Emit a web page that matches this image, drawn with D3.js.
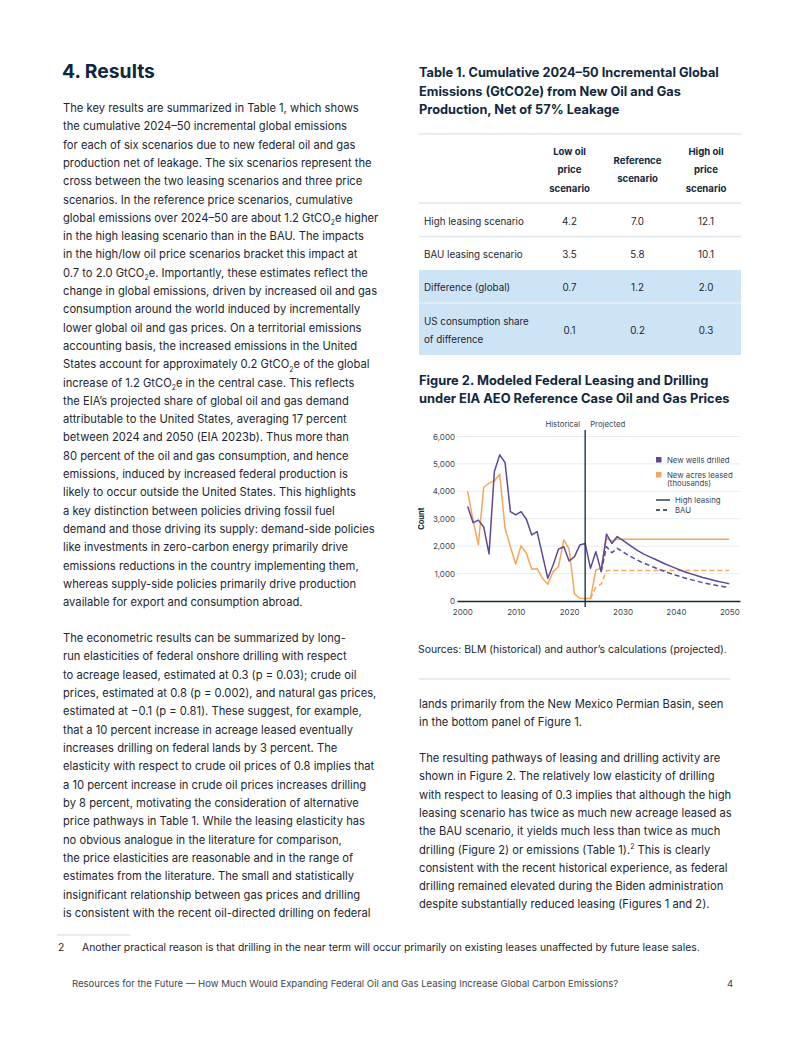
<!DOCTYPE html>
<html><head><meta charset="utf-8">
<script src="https://cdn.jsdelivr.net/npm/d3@7"></script>
<style>body{margin:0;background:#fff}svg{display:block}</style>
</head><body><svg id="page" width="802" height="1037"></svg>
<script>
// ---------------- DATA ----------------
const histYears = d3.range(2001, 2024);
const wellsHist = [3450,2860,2950,2700,1720,4720,5330,5050,3260,3140,3260,2980,2410,2530,1680,830,1310,1890,1980,1460,1620,2040,2100];
const acresHist = [4000,2950,2050,4150,4300,4380,4620,2650,1980,1350,2020,1740,1160,1180,830,610,1070,1250,2230,1890,260,100,90];

const projYears = d3.range(2023, 2051);
const wellsHigh = [2100,1190,1800,1070,2440,2100,2350,2220,2080,1950,1820,1710,1620,1530,1440,1350,1270,1190,1110,1040,980,920,860,810,760,710,670,630];
const acresHigh = [90,90,1130,1200,2290,2180,2250,2250,2250,2250,2250,2250,2250,2250,2250,2250,2250,2250,2250,2250,2250,2250,2250,2250,2250,2250,2250,2250];

const wellsBAUYears = d3.range(2026, 2051);
const wellsBAU = [1070,1980,1760,1920,1800,1680,1570,1470,1380,1300,1220,1140,1070,1000,940,880,820,770,720,670,630,590,550,520,490];
const acresBAUYears = d3.range(2024, 2051);
const acresBAU = [90,500,620,1110,1110,1110,1110,1110,1110,1110,1110,1110,1110,1110,1110,1110,1110,1110,1110,1110,1110,1110,1110,1110,1110,1110,1110];

const yTicks = [0,1000,2000,3000,4000,5000,6000];
const xTicks = [2000,2010,2020,2030,2040,2050];
const splitYear = 2023;
const legendItems = ["New wells drilled", "New acres leased", "(thousands)"];

const tableCols = [["Low oil","price","scenario"],["Reference","scenario"],["High oil","price","scenario"]];
const tableRows = [["High leasing scenario"],["BAU leasing scenario"],["Difference (global)"],["US consumption share","of difference"]];
const tableVals = [["4.2","7.0","12.1"],["3.5","5.8","10.1"],["0.7","1.2","2.0"],["0.1","0.2","0.3"]];

const leftP1 = [
"The key results are summarized in Table 1, which shows",
"the cumulative 2024–50 incremental global emissions",
"for each of six scenarios due to new federal oil and gas",
"production net of leakage. The six scenarios represent the",
"cross between the two leasing scenarios and three price",
"scenarios. In the reference price scenarios, cumulative",
"global emissions over 2024–50 are about 1.2 GtCO{2}e higher",
"in the high leasing scenario than in the BAU. The impacts",
"in the high/low oil price scenarios bracket this impact at",
"0.7 to 2.0 GtCO{2}e. Importantly, these estimates reflect the",
"change in global emissions, driven by increased oil and gas",
"consumption around the world induced by incrementally",
"lower global oil and gas prices. On a territorial emissions",
"accounting basis, the increased emissions in the United",
"States account for approximately 0.2 GtCO{2}e of the global",
"increase of 1.2 GtCO{2}e in the central case. This reflects",
"the EIA’s projected share of global oil and gas demand",
"attributable to the United States, averaging 17 percent",
"between 2024 and 2050 (EIA 2023b). Thus more than",
"80 percent of the oil and gas consumption, and hence",
"emissions, induced by increased federal production is",
"likely to occur outside the United States. This highlights",
"a key distinction between policies driving fossil fuel",
"demand and those driving its supply: demand-side policies",
"like investments in zero-carbon energy primarily drive",
"emissions reductions in the country implementing them,",
"whereas supply-side policies primarily drive production",
"available for export and consumption abroad."];
const leftP2 = [
"The econometric results can be summarized by long-",
"run elasticities of federal onshore drilling with respect",
"to acreage leased, estimated at 0.3 (p = 0.03); crude oil",
"prices, estimated at 0.8 (p = 0.002), and natural gas prices,",
"estimated at −0.1 (p = 0.81). These suggest, for example,",
"that a 10 percent increase in acreage leased eventually",
"increases drilling on federal lands by 3 percent. The",
"elasticity with respect to crude oil prices of 0.8 implies that",
"a 10 percent increase in crude oil prices increases drilling",
"by 8 percent, motivating the consideration of alternative",
"price pathways in Table 1. While the leasing elasticity has",
"no obvious analogue in the literature for comparison,",
"the price elasticities are reasonable and in the range of",
"estimates from the literature. The small and statistically",
"insignificant relationship between gas prices and drilling",
"is consistent with the recent oil-directed drilling on federal"];
const rightP0 = [
"lands primarily from the New Mexico Permian Basin, seen",
"in the bottom panel of Figure 1."];
const rightP1 = [
"The resulting pathways of leasing and drilling activity are",
"shown in Figure 2. The relatively low elasticity of drilling",
"with respect to leasing of 0.3 implies that although the high",
"leasing scenario has twice as much new acreage leased as",
"the BAU scenario, it yields much less than twice as much",
"drilling (Figure 2) or emissions (Table 1).[2] This is clearly",
"consistent with the recent historical experience, as federal",
"drilling remained elevated during the Biden administration",
"despite substantially reduced leasing (Figures 1 and 2)."];
const tableTitle = ["Table 1. Cumulative 2024–50 Incremental Global","Emissions (GtCO2e) from New Oil and Gas","Production, Net of 57% Leakage"];
const figTitle = ["Figure 2. Modeled Federal Leasing and Drilling","under EIA AEO Reference Case Oil and Gas Prices"];

// ---------------- STYLE ----------------
const FONT = "Inter, 'Noto Sans', sans-serif";
const TEXT = "#1c2732", NAVY = "#10283d", PURPLE = "#5c4a98", ORANGE = "#f4a65b", GRID = "#e4edf6", RULE = "#dde6ef", SHADE = "#cde3f6";

const svg = d3.select("#page").style("font-family", FONT);
svg.append("rect").attr("width",802).attr("height",1037).attr("fill","#fff");

function measure(str, size, weight) {
  const t = svg.append("text").attr("font-size", size).attr("font-weight", weight||400).text(str);
  const w = t.node().getComputedTextLength(); t.remove(); return w;
}
function fitSize(str, target, weight) { return 12 * target / measure(str, 12, weight); }

function addLine(g, x, y, str, size, opts) {
  opts = opts || {};
  const t = g.append("text").attr("x", x).attr("y", y).attr("font-size", size)
    .attr("fill", opts.fill || TEXT).attr("font-weight", opts.weight || 400)
    .attr("text-anchor", opts.anchor || "start");
  const parts = str.split(/(\{\d\}|\[\d\])/);
  let shift = 0;
  parts.forEach(p => {
    if (!p) return;
    if (p[0] === "{") {
      t.append("tspan").attr("font-size", size*0.62).attr("dy", size*0.3).text(p.slice(1,-1));
      shift = -size*0.3;
    } else if (p[0] === "[") {
      t.append("tspan").attr("font-size", size*0.62).attr("dy", -size*0.4).text(p.slice(1,-1));
      shift = size*0.4;
    } else {
      const ts = t.append("tspan").text(p);
      if (shift) { ts.attr("dy", shift); shift = 0; }
    }
  });
  return t;
}
function addPara(lines, x, y0, step, size) {
  const g = svg.append("g");
  lines.forEach((l, i) => addLine(g, x, y0 + i*step, l, size));
}

const bodySize = fitSize("global emissions over 2024–50 are about 1.2 GtCO2e higher", 318);

// ---------------- LEFT COLUMN ----------------
const h1 = fitSize("4. Results", 93, 700);
addLine(svg, 62, 78, "4. Results", h1, {weight:700, fill:NAVY});
addPara(leftP1, 63, 112, 18.3, bodySize);
addPara(leftP2, 63, 642, 18.33, bodySize);

// ---------------- RIGHT COLUMN: TABLE ----------------
const ttSize = fitSize(tableTitle[0], 300, 700);
tableTitle.forEach((l,i) => addLine(svg, 419, 77 + i*18.5, l, ttSize, {weight:700, fill:NAVY}));

const tg = svg.append("g");
const colX = [569.5, 637.5, 706];
const tSize = fitSize("High leasing scenario", 100);
const thSize = fitSize("Reference", 48, 700);
tg.append("rect").attr("x",419).attr("y",270).attr("width",322).attr("height",85).attr("fill",SHADE);
[134, 203, 236.5].forEach(y => tg.append("line").attr("x1",419).attr("x2",741).attr("y1",y).attr("y2",y).attr("stroke",RULE).attr("stroke-width",1.5));
tg.append("line").attr("x1",419).attr("x2",741).attr("y1",303).attr("y2",303).attr("stroke","#e6f0fa").attr("stroke-width",1.5);
tableCols.forEach((c, ci) => {
  const y0 = c.length === 3 ? 155 : 164;
  c.forEach((l, li) => addLine(tg, colX[ci], y0 + li*18.4, l, thSize, {weight:700, anchor:"middle", fill:NAVY}));
});
const rowY = [224.5, 257.5, 291, 334];
tableRows.forEach((r, ri) => {
  const y0 = r.length === 2 ? rowY[ri] - 8.7 : rowY[ri];
  r.forEach((l, li) => addLine(tg, 424, y0 + li*17.4, l, tSize));
  tableVals[ri].forEach((v, ci) => addLine(tg, colX[ci], rowY[ri], v, tSize, {anchor:"middle"}));
});

// ---------------- FIGURE ----------------
const ftSize = fitSize(figTitle[0], 290, 700);
figTitle.forEach((l,i) => addLine(svg, 419, 385 + i*18.3, l, ftSize, {weight:700, fill:NAVY}));

const x = d3.scaleLinear().domain([1999, 2052]).range([457, 740]);
const y = d3.scaleLinear().domain([0, 6000]).range([601, 436.5]);
const cg = svg.append("g").attr("font-size", 8);

cg.selectAll("line.grid").data(yTicks.filter(d => d > 0)).join("line")
  .attr("x1", x(1999)).attr("x2", x(2052)).attr("y1", d => y(d)).attr("y2", d => y(d))
  .attr("stroke", GRID).attr("stroke-width", 1);

const yAxis = cg.append("g").attr("transform", `translate(${x(1999)-2},0)`)
  .call(d3.axisLeft(y).tickValues(yTicks).tickFormat(d3.format(",")).tickSize(0).tickPadding(0));
yAxis.select(".domain").remove();
yAxis.selectAll("text").attr("fill", "#3a4652").attr("font-size", 8).attr("font-family", FONT);

const xAxis = cg.append("g").attr("transform", `translate(0,${y(0)})`)
  .call(d3.axisBottom(x).tickValues(xTicks).tickFormat(d3.format("d")).tickSize(0).tickPadding(8));
xAxis.select(".domain").attr("stroke", NAVY).attr("stroke-width", 1.3);
xAxis.selectAll("text").attr("fill", "#3a4652").attr("font-size", 8).attr("font-family", FONT);

cg.append("text").attr("transform", `translate(424,${(y(0)+y(6000))/2}) rotate(-90)`)
  .attr("text-anchor","middle").attr("font-weight",700).attr("font-size",7.5).attr("fill",NAVY).text("Count");

const line = d3.line().x(d => x(d[0])).y(d => y(d[1]));
const zip = (xs, ys) => xs.map((v,i) => [v, ys[i]]);
function path(data, color, dash) {
  cg.append("path").datum(data).attr("d", line).attr("fill","none").attr("stroke",color)
    .attr("stroke-width",1.5).attr("stroke-linejoin","round").attr("stroke-dasharray", dash || null);
}
path(zip(acresBAUYears, acresBAU), ORANGE, "5,3");
path(zip(histYears, acresHist).concat(zip(projYears.slice(1), acresHigh.slice(1))), ORANGE);
path(zip(wellsBAUYears, wellsBAU), PURPLE, "5,3");
path(zip(histYears, wellsHist).concat(zip(projYears.slice(1), wellsHigh.slice(1))), PURPLE);

cg.append("line").attr("x1", x(splitYear)).attr("x2", x(splitYear)).attr("y1", 430).attr("y2", y(0)+6)
  .attr("stroke", NAVY).attr("stroke-width", 1.3);
cg.append("text").attr("x", x(splitYear)-5).attr("y", 427).attr("text-anchor","end").attr("fill","#3a4652").attr("font-size",7.8).text("Historical");
cg.append("text").attr("x", x(splitYear)+5).attr("y", 427).attr("fill","#3a4652").attr("font-size",7.8).text("Projected");

// legend
const lg = cg.append("g").attr("font-size", 7.8).attr("fill", "#3a4652");
lg.append("rect").attr("x",656).attr("y",457).attr("width",5.5).attr("height",5.5).attr("fill",PURPLE);
lg.append("text").attr("x",667).attr("y",462.5).text(legendItems[0]);
lg.append("rect").attr("x",656).attr("y",472).attr("width",5.5).attr("height",5.5).attr("fill",ORANGE);
lg.append("text").attr("x",667).attr("y",477.5).text(legendItems[1]);
lg.append("text").attr("x",667).attr("y",486).text(legendItems[2]);
lg.append("line").attr("x1",656).attr("x2",670).attr("y1",500).attr("y2",500).attr("stroke",NAVY).attr("stroke-width",1.3);
lg.append("text").attr("x",675).attr("y",503).text("High leasing");
lg.append("line").attr("x1",656).attr("x2",670).attr("y1",510).attr("y2",510).attr("stroke",NAVY).attr("stroke-width",1.3).attr("stroke-dasharray","4,3");
lg.append("text").attr("x",675).attr("y",513).text("BAU");

// sources
const srcSize = fitSize("Sources: BLM (historical) and author’s calculations (projected).", 309);
addLine(svg, 418, 652.5, "Sources: BLM (historical) and author’s calculations (projected).", srcSize);
svg.append("line").attr("x1",419).attr("x2",730).attr("y1",679).attr("y2",679).attr("stroke",RULE).attr("stroke-width",1.5);

addPara(rightP0, 419, 708, 18.3, bodySize);
addPara(rightP1, 419, 762, 18.3, bodySize);

// footnote & footer
svg.append("line").attr("x1",57).attr("x2",130).attr("y1",935).attr("y2",935).attr("stroke",RULE).attr("stroke-width",1.5);
const fnText = "Another practical reason is that drilling in the near term will occur primarily on existing leases unaffected by future lease sales.";
const fnSize = fitSize(fnText, 618);
addLine(svg, 58, 951, "2", fnSize);
addLine(svg, 82, 951, fnText, fnSize);
const footText = "Resources for the Future — How Much Would Expanding Federal Oil and Gas Leasing Increase Global Carbon Emissions?";
const footSize = fitSize(footText, 547);
addLine(svg, 72, 987, footText, footSize, {fill:"#3a4652"});
addLine(svg, 730, 987, "4", footSize, {fill:"#3a4652", anchor:"middle"});
</script></body></html>
